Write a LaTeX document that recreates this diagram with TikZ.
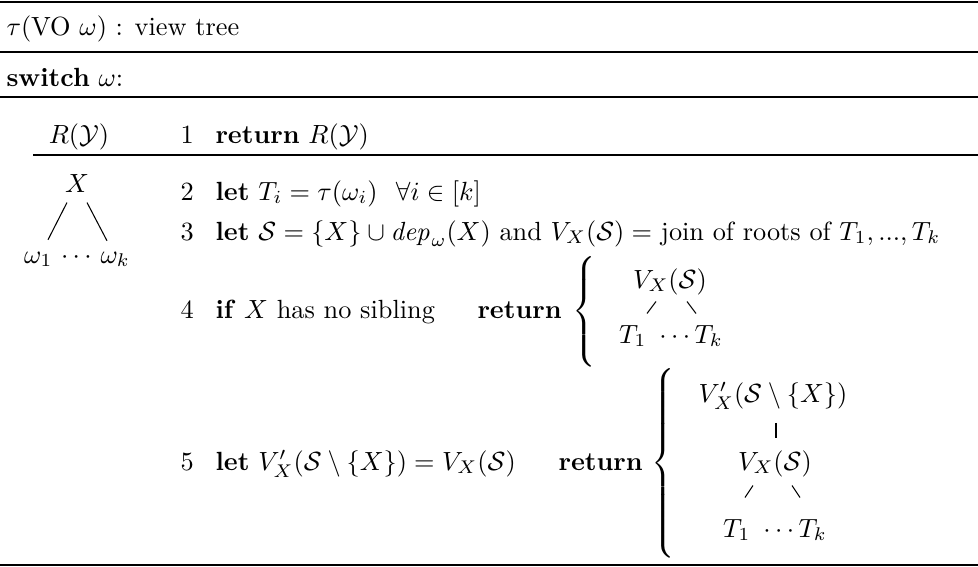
\documentclass[tikz,border=0pt]{standalone}
\usepackage{amsmath,amssymb}
\usetikzlibrary{calc}
\begin{document}
\begin{tikzpicture}[x=0.3802pt,y=-0.3802pt,
  txt/.style={inner sep=0pt,anchor=base west},
  ctr/.style={inner sep=0pt,anchor=base},
  num/.style={inner sep=0pt,anchor=base west},
  brc/.style={inner sep=0pt,anchor=west},
  heavy/.style={line width=0.8pt},
  midrule/.style={line width=0.5pt},
  thinrule/.style={line width=0.4pt},
  edge/.style={line width=0.4pt}]
\useasboundingbox (0,0) rectangle (978,567);
% rules
\draw[heavy] (0,2) -- (978,2);
\draw[midrule] (0,52) -- (978,52);
\draw[midrule] (0,97) -- (978,97);
\draw[thinrule] (33,155) -- (978,155);
\draw[heavy] (0,565) -- (978,565);
% header
\node[txt] (title) at (6,35) {$\tau(\mathrm{VO}\ \omega)$ : view tree};
\node[txt] (switch) at (6,86) {\textbf{switch} $\omega$:};
% case 1
\node[ctr] (case1) at (79,143) {$R(\mathcal{Y})$};
\node[num] (n1) at (180,143) {1};
\node[txt] (l1) at (215,143) {\textbf{return} $R(\mathcal{Y})$};
% case 2 tree
\node[ctr] (X) at (77,192) {$X$};
\node[ctr] (kids) at (77,263) {$\omega_1\,\cdots\,\omega_k$};
\draw[edge] ($(X.south)+(-10,10)$) -- ($(kids.north)+(-29,-11)$);
\draw[edge] ($(X.south)+(10,10)$) -- ($(kids.north)+(30,-10)$);
% lines 2-5
\node[num] (n2) at (180,200) {2};
\node[txt] (l2) at (215,200) {\textbf{let} $T_i = \tau(\omega_i)$\hspace{7pt}$\forall i \in [k]$};
\node[num] (n3) at (180,240) {3};
\node[txt] (l3) at (215,240) {\textbf{let} $\mathcal{S} = \{X\} \cup \mathit{dep}_\omega(X)$ and $V_X(\mathcal{S}) =$ join of roots of $T_1, ..., T_k$};
\node[num] (n4) at (180,318) {4};
\node[txt] (l4) at (215,318) {\textbf{if} $X$ has no sibling};
\node[txt] (r4) at (477,318) {\textbf{return}};
\node[brc] (b4) at (572,311.5) {$\left\{\vcenter{\hbox{\rule{0pt}{45.5pt}}}\right.$};
\node[ctr] (v4) at (670,288) {$V_X(\mathcal{S})$};
\node[ctr] (t4) at (671,343) {$T_1\ \cdots T_k$};
\draw[edge] ($(t4.north)+(-24,-11)$) -- ($(v4.south)+(-14,6.4)$);
\draw[edge] ($(t4.north)+(25,-11)$) -- ($(v4.south)+(17,6.4)$);
\node[num] (n5) at (180,470) {5};
\node[txt] (l5) at (215,470) {\textbf{let} $V'_X(\mathcal{S}\setminus\{X\}) = V_X(\mathcal{S})$};
\node[txt] (r5) at (558,470) {\textbf{return}};
\node[brc] (b5) at (651,463.4) {$\left\{\vcenter{\hbox{\rule{0pt}{74.4pt}}}\right.$};
\node[ctr] (vp5) at (773,402) {$V'_X(\mathcal{S}\setminus\{X\})$};
\node[ctr] (v5) at (775,470) {$V_X(\mathcal{S})$};
\node[ctr] (t5) at (775,537) {$T_1\ \cdots T_k$};
\draw[edge] ($(v5.north)+(1,-27)$) -- ($(v5.north)+(1,-12)$);
\draw[edge] ($(t5.north)+(-30,-21)$) -- ($(v5.south)+(-22,8.4)$);
\draw[edge] ($(t5.north)+(25,-21)$) -- ($(v5.south)+(17,8.4)$);
\end{tikzpicture}
\end{document}
